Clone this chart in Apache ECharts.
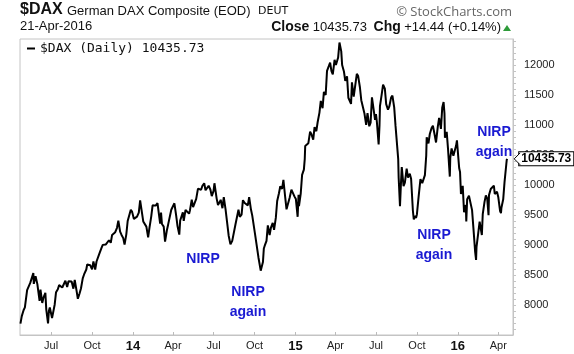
<!DOCTYPE html>
<html>
<head>
<meta charset="utf-8">
<script src="https://cdn.jsdelivr.net/npm/echarts@6/dist/echarts.min.js"></script>
<style>
  html, body { margin: 0; padding: 0; background: #fff; }
  #chart { width: 574px; height: 354px; }
</style>
</head>
<body>
<div id="chart"></div>
<script>
// DAX daily closes (a few points per week)
var days2013 = ['04-23','04-26','04-30','05-03','05-08','05-10','05-15','05-17','05-22','05-23','05-27','05-31',
  '06-05','06-07','06-11','06-14','06-18','06-20','06-24','06-26','06-28','07-03','07-05','07-09','07-12','07-16',
  '07-19','07-23','07-26','07-30','08-02','08-06','08-09','08-13','08-16','08-20','08-23','08-27','08-30','09-03',
  '09-06','09-10','09-13','09-18','09-20','09-24','09-27','10-01','10-04','10-08','10-11','10-15','10-18','10-22',
  '10-25','10-29','11-01','11-05','11-08','11-12','11-15','11-19','11-22','11-26','11-29','12-03','12-06','12-10',
  '12-13','12-17','12-20','12-27','12-30'];
var close2013 = [7690,7814,7913,7961,8249,8279,8368,8399,8531,8352,8480,8348,
  8070,8255,8035,8127,8204,7929,7692,7905,7959,7782,7806,8009,8213,8262,
  8331,8351,8292,8301,8404,8301,8395,8387,8391,8272,8417,8243,8103,8196,
  8275,8444,8509,8592,8675,8655,8661,8593,8725,8590,8725,8707,8870,8947,
  9002,9006,9009,9025,9079,9037,9168,9193,9213,9287,9406,9224,9172,9114,
  9006,9182,9400,9589,9552];

var days2014 = ['01-03','01-07','01-10','01-14','01-17','01-21','01-24','01-28','01-31','02-04','02-07','02-11',
  '02-14','02-18','02-21','02-25','02-28','03-03','03-05','03-07','03-11','03-14','03-18','03-21','03-25','03-28',
  '04-01','04-04','04-08','04-11','04-15','04-17','04-23','04-25','04-29','05-02','05-07','05-09','05-13','05-16',
  '05-20','05-23','05-27','05-30','06-03','06-06','06-10','06-13','06-17','06-20','06-24','06-27','07-01','07-03',
  '07-08','07-11','07-15','07-17','07-21','07-24','07-28','07-31','08-04','08-06','08-08','08-12','08-15','08-19',
  '08-22','08-26','08-29','09-02','09-05','09-09','09-12','09-16','09-19','09-23','09-26','09-30','10-02','10-06',
  '10-10','10-13','10-15','10-16','10-20','10-22','10-24','10-28','10-31','11-04','11-07','11-11','11-14','11-18',
  '11-21','11-25','11-28','12-02','12-05','12-09','12-12','12-16','12-19','12-23','12-30'];
var close2014 = [9435,9428,9473,9540,9742,9730,9392,9406,9306,9127,9289,9478,
  9662,9660,9656,9699,9692,9358,9542,9350,9307,9056,9242,9343,9338,9588,
  9603,9695,9490,9315,9173,9409,9544,9401,9584,9556,9522,9581,9754,9630,
  9658,9768,9940,9943,9920,9987,10028,9912,9920,9987,9921,9815,9902,10029,
  9773,9666,9719,9753,9613,9797,9593,9407,9155,9130,9010,9069,9092,9334,
  9340,9588,9470,9507,9747,9700,9691,9660,9799,9595,9490,9474,9195,9209,
  8788,8812,8572,8582,8717,8941,8988,9068,9327,9166,9291,9368,9252,9456,
  9733,9862,9980,9934,10087,9799,9594,9563,9787,9922,9806];

var days2015 = ['01-02','01-06','01-08','01-09','01-13','01-16','01-20','01-22','01-23','01-27','01-30','02-03',
  '02-06','02-10','02-13','02-17','02-20','02-24','02-27','03-03','03-06','03-10','03-13','03-17','03-20','03-23',
  '03-26','03-30','04-02','04-07','04-10','04-14','04-16','04-20','04-23','04-27','04-30','05-04','05-06','05-08',
  '05-12','05-15','05-19','05-22','05-26','05-29','06-02','06-05','06-09','06-12','06-16','06-19','06-22','06-26',
  '06-29','07-01','07-03','07-07','07-09','07-10','07-14','07-17','07-21','07-24','07-28','07-31','08-04','08-07',
  '08-11','08-14','08-18','08-20','08-21','08-24','08-26','08-28','09-01','09-04','09-08','09-11','09-15','09-18',
  '09-22','09-24','09-28','09-29','10-01','10-05','10-09','10-13','10-15','10-19','10-22','10-23','10-27','10-30',
  '11-03','11-06','11-10','11-13','11-17','11-20','11-24','11-27','11-30','12-02','12-03','12-07','12-10','12-14',
  '12-15','12-18','12-22','12-28','12-30'];
var close2015 = [9765,9470,9837,9648,9862,10168,10257,10436,10649,10629,10694,10890,
  10846,10754,10963,10896,11050,11206,11402,11280,11551,11500,11901,11980,12040,11896,
  11844,12086,12001,12124,12375,12227,11998,11892,11737,11811,11454,11428,11351,11710,
  11472,11447,11853,11815,11625,11413,11436,11197,11001,11197,10979,11040,11461,11492,
  11084,11180,11058,10676,10997,11316,11516,11673,11604,11347,11257,11308,11456,11490,
  11293,10985,11006,10432,10124,9648,9998,10298,9982,10038,10271,10124,10188,10105,
  9571,9428,9484,9450,9509,9815,10097,10032,10065,10164,10491,10795,10692,10850,
  10951,10988,10833,10708,10971,11119,10934,11293,11382,11190,10789,10886,10598,10140,
  10451,10608,10488,10653,10743];

var days2016 = ['01-04','01-06','01-08','01-12','01-15','01-19','01-20','01-22','01-26','01-29','02-02','02-05',
  '02-09','02-11','02-12','02-16','02-19','02-23','02-24','02-26','03-01','03-04','03-07','03-10','03-11','03-15',
  '03-18','03-22','03-24','03-29','04-01','04-05','04-07','04-08','04-12','04-15','04-19','04-20','04-21'];
var close2016 = [10283,10214,9849,9985,9545,9665,9392,9765,9822,9798,9581,9286,
  8879,8752,8967,9206,9388,9416,9167,9513,9718,9824,9778,9498,9831,9933,
  9950,9990,9851,9888,9794,9564,9530,9622,9761,10051,10350,10421,10435.73];

var priceTicks = [8000, 8500, 9000, 9500, 10000, 10500, 11000, 11500, 12000];
var monthTicks = ['2013-07-01','2013-10-01','2014-01-01','2014-04-01','2014-07-01','2014-10-01',
  '2015-01-01','2015-04-01','2015-07-01','2015-10-01','2016-01-01','2016-04-01'];
var monthNames = ['Jan','Feb','Mar','Apr','May','Jun','Jul','Aug','Sep','Oct','Nov','Dec'];

var notes = [
  { text: 'NIRP', x: 203, y: 259 },
  { text: 'NIRP\nagain', x: 248, y: 302 },
  { text: 'NIRP\nagain', x: 434, y: 245 },
  { text: 'NIRP\nagain', x: 494, y: 142 }
];

function toTime(s) {
  var p = s.split('-');
  return Date.UTC(+p[0], +p[1] - 1, +p[2]);
}

var seriesData = [];
[[2013, days2013, close2013], [2014, days2014, close2014],
 [2015, days2015, close2015], [2016, days2016, close2016]].forEach(function (y) {
  for (var i = 0; i < y[1].length; i++) {
    seriesData.push([toTime(y[0] + '-' + y[1][i]), y[2][i]]);
  }
});
var last = seriesData[seriesData.length - 1];

var minorTicks = [];
for (var v = 7600; v <= 12400; v += 100) minorTicks.push(v);

var FONT = 'Liberation Sans, Arial, sans-serif';

var chart = echarts.init(document.getElementById('chart'), null, { renderer: 'canvas' });

var graphics = [
  { type: 'text', left: 20, top: 2, style: { text: '$DAX', font: 'bold 16px ' + FONT, fill: '#111' } },
  { type: 'text', left: 67, top: 5, style: { text: 'German DAX Composite (EOD)', font: '13px ' + FONT, fill: '#111' } },
  { type: 'text', left: 258, top: 6, style: { text: 'DEUT', font: '11px DejaVu Sans, sans-serif', fill: '#111' } },
  { type: 'text', left: 20, top: 20, style: { text: '21-Apr-2016', font: '13px ' + FONT, fill: '#111' } },
  { type: 'text', x: 512, y: 12, style: { text: '\u00A9 StockCharts.com', font: '13px Open Sans, sans-serif',
      fill: '#666', align: 'right', verticalAlign: 'middle' } },
  { type: 'text', x: 501, y: 27, style: {
      text: '{b|Close} {n|10435.73}  {b|Chg} {n|+14.44 (+0.14%)}',
      align: 'right', verticalAlign: 'middle',
      rich: {
        b: { font: 'bold 14px ' + FONT, fill: '#111' },
        n: { font: '13px ' + FONT, fill: '#111' }
      } } },
  { type: 'polygon', shape: { points: [[503, 31], [511, 31], [507, 25]] }, style: { fill: '#2e9b3a' } }
];
notes.forEach(function (n) {
  graphics.push({ type: 'text', x: n.x, y: n.y, z: 10, style: {
    text: n.text, font: 'bold 14px ' + FONT, fill: '#1a1ad2',
    align: 'center', verticalAlign: 'middle', lineHeight: 20 } });
});

chart.setOption({
  animation: false,
  backgroundColor: '#fff',
  grid: { left: 20, right: 61, top: 39, bottom: 19, show: true, borderColor: '#c4c4c4', borderWidth: 1 },
  legend: {
    left: 22, top: 37, icon: 'rect', itemWidth: 8, itemHeight: 2, itemGap: 4,
    textStyle: { fontFamily: 'DejaVu Sans Mono, monospace', fontSize: 13, color: '#111' },
    data: ['$DAX (Daily) 10435.73']
  },
  xAxis: {
    // dates as timestamps on a value axis so label positions can be given exactly
    type: 'value',
    min: toTime('2013-04-22'),
    max: toTime('2016-05-04'),
    splitLine: { show: false },
    axisLine: { show: true, lineStyle: { color: '#c4c4c4' } },
    axisTick: { show: true, inside: true, length: 3, lineStyle: { color: '#bbb' },
      customValues: monthTicks.map(toTime) },
    axisLabel: {
      customValues: monthTicks.map(toTime),
      margin: 5,
      formatter: function (val) {
        var d = new Date(val);
        if (d.getUTCMonth() === 0) return '{y|' + String(d.getUTCFullYear()).slice(2) + '}';
        return '{m|' + monthNames[d.getUTCMonth()] + '}';
      },
      rich: {
        m: { fontFamily: FONT, fontSize: 11, color: '#222' },
        y: { fontFamily: FONT, fontSize: 13, fontWeight: 'bold', color: '#111' }
      }
    }
  },
  yAxis: {
    type: 'value',
    position: 'right',
    min: 7500,
    max: 12433,
    splitLine: { show: false },
    axisLine: { show: true, lineStyle: { color: '#c4c4c4' } },
    axisTick: { show: true, length: 3, lineStyle: { color: '#c4c4c4' }, customValues: minorTicks },
    axisLabel: {
      customValues: priceTicks, margin: 11, fontFamily: FONT, fontSize: 11, color: '#222',
      formatter: function (val) { return String(val); }
    }
  },
  graphic: graphics,
  series: [{
    name: '$DAX (Daily) 10435.73',
    type: 'line',
    data: seriesData,
    showSymbol: false,
    color: '#000',
    lineStyle: { color: '#000', width: 2 },
    endLabel: {
      show: true,
      distance: 12,
      formatter: function () { return last[1].toFixed(2); },
      fontFamily: FONT, fontSize: 12, fontWeight: 'bold', color: '#000',
      backgroundColor: '#fff', borderColor: '#000', borderWidth: 1, padding: [1, 2, 0, 2]
    }
  }]
});

// little pointer in front of the last-price box
var p = chart.convertToPixel({ seriesIndex: 0 }, last);
chart.setOption({
  graphic: graphics.concat([{
    type: 'polyline', z: 20,
    shape: { points: [[p[0] + 13, p[1] - 6], [p[0] + 7, p[1]], [p[0] + 13, p[1] + 6]] },
    style: { stroke: '#000', lineWidth: 1, fill: '#fff' }
  }])
});
</script>
</body>
</html>
